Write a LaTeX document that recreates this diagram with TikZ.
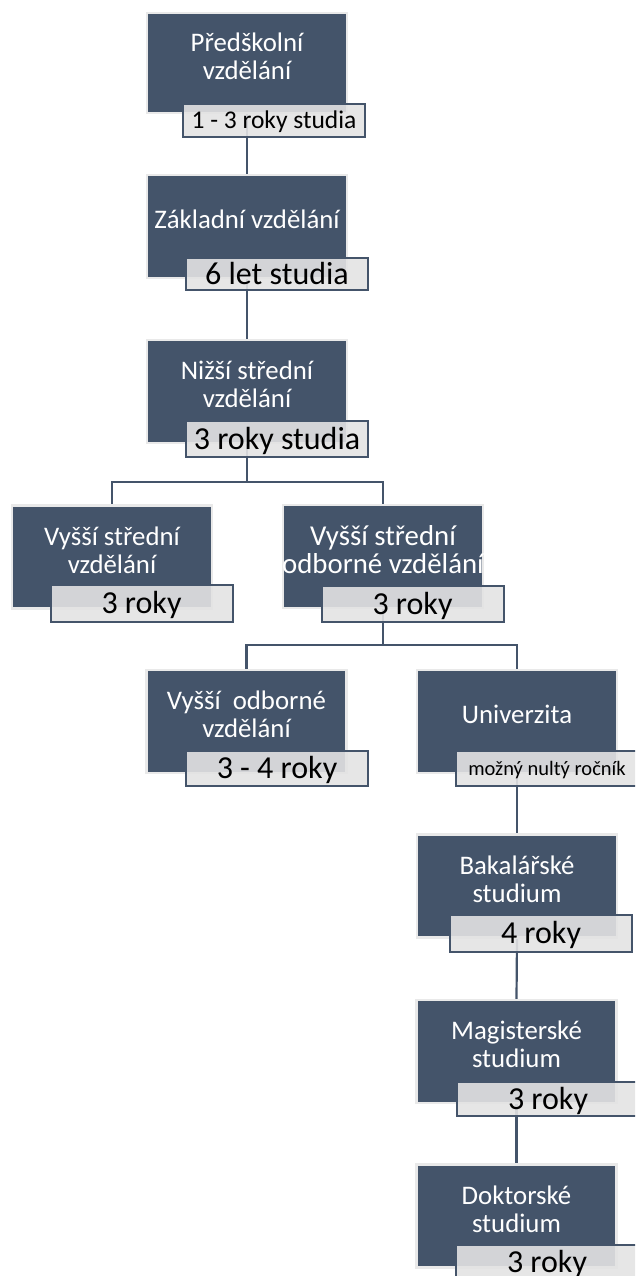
\documentclass[tikz,border=0pt]{standalone}
\usepackage{fontspec}
\setmainfont{Carlito}
\usetikzlibrary{backgrounds}
\definecolor{navy}{HTML}{44546A}
\definecolor{halo}{HTML}{E9E9E9}
\definecolor{labfill}{HTML}{E3E3E3}
\begin{document}
\begin{tikzpicture}[x=1pt,y=-1pt,
  dbox/.style={draw=halo, line width=2.5pt, fill=navy, minimum width=200pt, minimum height=103pt, inner sep=0pt},
  btxt/.style={text=white, align=center, inner sep=0pt, font=\fontsize{26.8}{28}\selectfont},
  lab/.style={draw=navy, line width=2pt, fill=labfill, fill opacity=0.9, text opacity=1, minimum width=182pt, minimum height=35pt, inner sep=0pt, text height=20.5pt, text depth=0pt, font=\fontsize{32}{34}\selectfont},
  conn/.style={draw=navy, line width=2.2pt}]
\useasboundingbox (0,0) rectangle (635,1276);
\clip (0,0) rectangle (635,1276);
% boxes
\node[dbox, minimum height=100pt] (b1) at (247,63) {};
\node[dbox] (b2) at (247,226.5) {};
\node[dbox] (b3) at (247,391.5) {};
\node[dbox] (b4) at (112,557) {};
\node[dbox] (b5) at (383,556.5) {};
\node[dbox] (b6) at (246.5,721.5) {};
\node[dbox] (b7) at (517,721.5) {};
\node[dbox] (b8) at (517,886) {};
\node[dbox] (b9) at (516.5,1051.5) {};
\node[dbox] (b10) at (516.5,1216) {};
% box texts
\node[btxt] (t1) at ([yshift=7pt]b1.center) {Předškolní\\vzdělání};
\node[btxt] (t2) at ([yshift=7pt]b2.center) {Základní vzdělání};
\node[btxt] (t3) at ([yshift=7pt]b3.center) {Nižší střední\\vzdělání};
\node[btxt] (t4) at ([yshift=7pt]b4.center) {Vyšší střední\\vzdělání};
\node[btxt, font=\fontsize{28.8}{27.5}\selectfont] (t5) at ([yshift=7pt]b5.center) {Vyšší střední\\odborné vzdělání};
\node[btxt] (t6) at ([yshift=7pt]b6.center) {Vyšší\ \ odborné\\vzdělání};
\node[btxt] (t7) at ([yshift=7pt]b7.center) {Univerzita};
\node[btxt] (t8) at ([yshift=7pt]b8.center) {Bakalářské\\studium};
\node[btxt] (t9) at ([yshift=7pt]b9.center) {Magisterské\\studium};
\node[btxt] (t10) at ([yshift=7pt]b10.center) {Doktorské\\studium};
% labels
\node[lab, minimum height=33pt, text height=16pt, font=\fontsize{25.5}{28}\selectfont] (l1) at (274,120.5) {1 - 3 roky studia};
\node[lab, minimum height=32pt] (l2) at (277,274) {6 let studia};
\node[lab, minimum height=36pt] (l3) at (277,439) {3 roky studia};
\node[lab, minimum height=37pt] (l4) at (141.5,603.5) {3 roky};
\node[lab, minimum height=36pt] (l5) at (412.5,604) {3 roky};
\node[lab] (l6) at (277,768.5) {3 - 4 roky};
\node[lab, text height=13pt, font=\fontsize{20.5}{24}\selectfont] (l7) at (547,768.5) {možný nultý ročník};
\node[lab, minimum height=37pt] (l8) at (541,933.5) {4 roky};
\node[lab, minimum height=34pt] (l9) at (548,1099) {3 roky};
\node[lab] (l10) at (547,1262) {3 roky};
% junctions
\coordinate (j1) at (247,482);
\coordinate (j2) at (383,645);
% connectors
\begin{scope}[on background layer]
\draw[conn] (b1.south) -- (b2.north);
\draw[conn] (b2.south) -- (b3.north);
\draw[conn] (b3.south) -- (j1) -| (b4.north);
\draw[conn] (j1) -| (b5.north);
\draw[conn] (b5.south) -- (j2) -| (b6.north);
\draw[conn] (j2) -| (b7.north);
\draw[conn] (b7.south) -- (b8.north);
\draw[conn] (b8.south) -- (b9.north);
\draw[conn] (b9.south) -- (b10.north);
\end{scope}
\end{tikzpicture}
\end{document}
